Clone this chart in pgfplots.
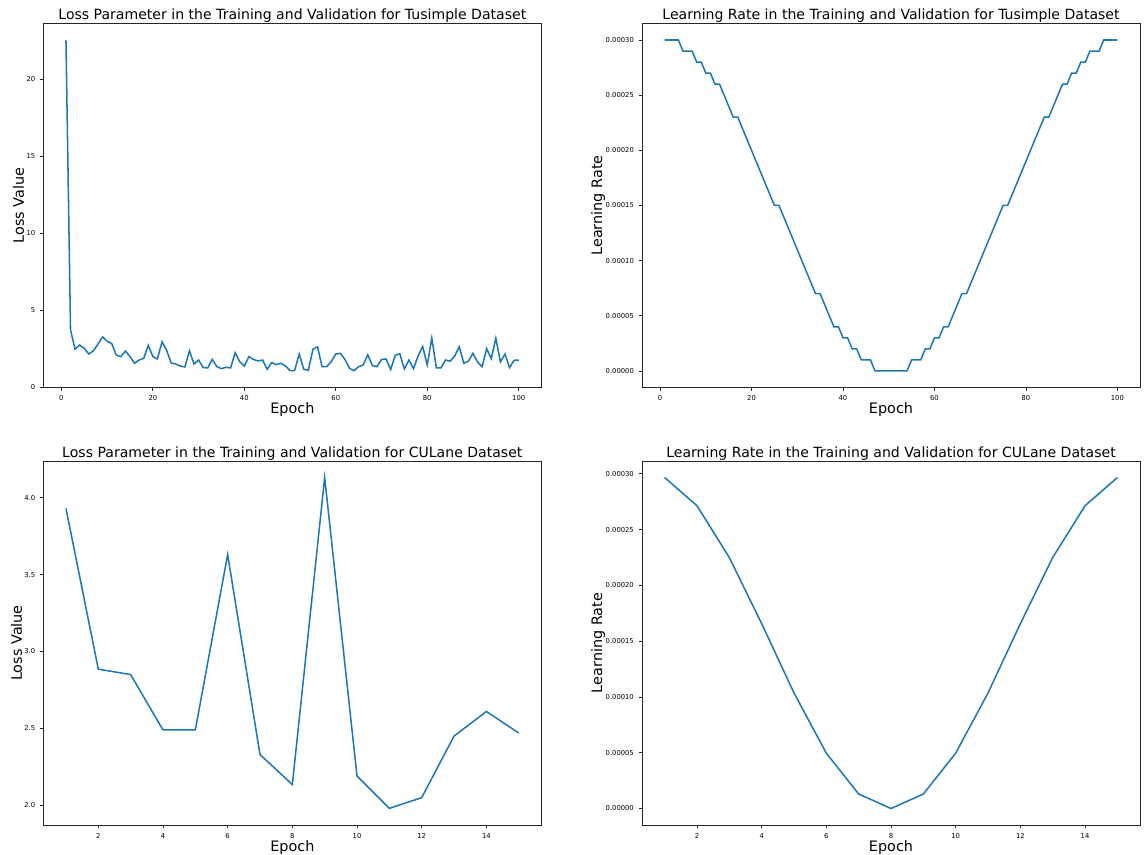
\documentclass[border=0pt]{standalone}
\usepackage{fontspec}
\setmainfont{DejaVu Sans}
\usepackage{pgfplots}
\pgfplotsset{compat=1.18}
\definecolor{mplblue}{RGB}{31,119,180}
\pgfplotsset{
  every axis title shift=0pt,
  base/.style={
    scale only axis, width=373.5pt, height=273pt, anchor=north west,
    axis line style={black!85, line width=0.6pt},
    tick align=outside, major tick length=2.6pt,
    tick style={black!85, line width=0.6pt},
    xtick pos=bottom, ytick pos=left,
    ticklabel style={font=\fontsize{5.1}{6}\selectfont},
    /pgf/number format/assume math mode=true,
    title style={font=\fontsize{10.55}{12}\selectfont, at={([yshift=2.8pt]axis description cs:0.5,1)}, anchor=base},
    xlabel style={font=\fontsize{10.8}{13}\selectfont, at={([yshift=-19.5pt]axis description cs:0.5,0)}, anchor=base},
    ylabel style={font=\fontsize{10.8}{13}\selectfont, anchor=base},
  },
}
\begin{document}
\begin{tikzpicture}
\useasboundingbox (0,0) rectangle (858pt,-640.5pt);
% Top-left
\begin{axis}[base, at={(32.5pt,-17.6pt)},
  xmin=-3.95, xmax=104.95, ymin=0, ymax=23.6,
  xtick={0,20,40,60,80,100}, ytick={0,5,10,15,20},
  title={Loss Parameter in the Training and Validation for Tusimple Dataset},
  xlabel={Epoch}, ylabel={Loss Value},
  ylabel style={at={([xshift=-14.5pt]axis description cs:0,0.5)}}]
\addplot[mplblue, line width=1.15pt, no marks] coordinates {(1,22.5)(2,3.71)(3,2.49)(4,2.75)(5,2.53)(6,2.17)(7,2.38)(8,2.81)(9,3.28)(10,3.0)(11,2.85)(12,2.1)(13,2.0)(14,2.36)(15,2.0)(16,1.57)(17,1.78)(18,1.89)(19,2.73)(20,2.0)(21,1.85)(22,2.96)(23,2.42)(24,1.59)(25,1.52)(26,1.39)(27,1.33)(28,2.38)(29,1.52)(30,1.78)(31,1.29)(32,1.27)(33,1.82)(34,1.35)(35,1.22)(36,1.31)(37,1.27)(38,2.25)(39,1.67)(40,1.39)(41,2.0)(42,1.82)(43,1.72)(44,1.78)(45,1.18)(46,1.61)(47,1.48)(48,1.57)(49,1.39)(50,1.1)(51,1.09)(52,2.17)(53,1.18)(54,1.12)(55,2.47)(56,2.64)(57,1.35)(58,1.35)(59,1.67)(60,2.17)(61,2.21)(62,1.82)(63,1.24)(64,1.09)(65,1.35)(66,1.46)(67,2.12)(68,1.42)(69,1.35)(70,1.82)(71,1.85)(72,1.16)(73,2.08)(74,2.19)(75,1.2)(76,1.78)(77,1.22)(78,2.04)(79,2.66)(80,1.46)(81,3.2)(82,1.27)(83,1.27)(84,1.78)(85,1.7)(86,2.04)(87,2.64)(88,1.57)(89,1.7)(90,2.21)(91,1.65)(92,1.35)(93,2.51)(94,1.87)(95,3.2)(96,1.65)(97,2.17)(98,1.29)(99,1.76)(100,1.78)};
\end{axis}
% Top-right
\begin{axis}[base, at={(481.5pt,-17.6pt)},
  xmin=-3.95, xmax=104.95, ymin=-0.000015, ymax=0.000315,
  xtick={0,20,40,60,80,100},
  ytick={0,0.00005,0.0001,0.00015,0.0002,0.00025,0.0003},
  scaled y ticks=false,
  yticklabel style={/pgf/number format/.cd, fixed, fixed zerofill, precision=5},
  title={Learning Rate in the Training and Validation for Tusimple Dataset},
  xlabel={Epoch}, ylabel={Learning Rate},
  ylabel style={at={([xshift=-30pt]axis description cs:0,0.5)}}]
\addplot[mplblue, line width=1.15pt, no marks] coordinates {(1,0.00030)(2,0.00030)(3,0.00030)(4,0.00030)(5,0.00029)(6,0.00029)(7,0.00029)(8,0.00028)(9,0.00028)(10,0.00027)(11,0.00027)(12,0.00026)(13,0.00026)(14,0.00025)(15,0.00024)(16,0.00023)(17,0.00023)(18,0.00022)(19,0.00021)(20,0.00020)(21,0.00019)(22,0.00018)(23,0.00017)(24,0.00016)(25,0.00015)(26,0.00015)(27,0.00014)(28,0.00013)(29,0.00012)(30,0.00011)(31,0.00010)(32,0.00009)(33,0.00008)(34,0.00007)(35,0.00007)(36,0.00006)(37,0.00005)(38,0.00004)(39,0.00004)(40,0.00003)(41,0.00003)(42,0.00002)(43,0.00002)(44,0.00001)(45,0.00001)(46,0.00001)(47,0)(48,0)(49,0)(50,0)(51,0)(52,0)(53,0)(54,0)(55,0.00001)(56,0.00001)(57,0.00001)(58,0.00002)(59,0.00002)(60,0.00003)(61,0.00003)(62,0.00004)(63,0.00004)(64,0.00005)(65,0.00006)(66,0.00007)(67,0.00007)(68,0.00008)(69,0.00009)(70,0.00010)(71,0.00011)(72,0.00012)(73,0.00013)(74,0.00014)(75,0.00015)(76,0.00015)(77,0.00016)(78,0.00017)(79,0.00018)(80,0.00019)(81,0.00020)(82,0.00021)(83,0.00022)(84,0.00023)(85,0.00023)(86,0.00024)(87,0.00025)(88,0.00026)(89,0.00026)(90,0.00027)(91,0.00027)(92,0.00028)(93,0.00028)(94,0.00029)(95,0.00029)(96,0.00029)(97,0.00030)(98,0.00030)(99,0.00030)(100,0.00030)};
\end{axis}
% Bottom-left
\begin{axis}[base, at={(32.5pt,-345.75pt)},
  xmin=0.3, xmax=15.7, ymin=1.872, ymax=4.238,
  xtick={2,4,6,8,10,12,14}, ytick={2.0,2.5,3.0,3.5,4.0},
  yticklabel style={/pgf/number format/.cd, fixed, fixed zerofill, precision=1},
  title={Loss Parameter in the Training and Validation for CULane Dataset},
  xlabel={Epoch}, ylabel={Loss Value},
  ylabel style={at={([xshift=-16pt]axis description cs:0,0.5)}}]
\addplot[mplblue, line width=1.15pt, no marks] coordinates {(1,3.93)(2,2.885)(3,2.85)(4,2.49)(5,2.49)(6,3.63)(7,2.33)(8,2.135)(9,4.13)(10,2.19)(11,1.98)(12,2.05)(13,2.45)(14,2.61)(15,2.47)};
\end{axis}
% Bottom-right
\begin{axis}[base, at={(481.5pt,-345.75pt)},
  xmin=0.3, xmax=15.7, ymin=-0.0000148, ymax=0.0003115,
  xtick={2,4,6,8,10,12,14},
  ytick={0,0.00005,0.0001,0.00015,0.0002,0.00025,0.0003},
  scaled y ticks=false,
  yticklabel style={/pgf/number format/.cd, fixed, fixed zerofill, precision=5},
  title={Learning Rate in the Training and Validation for CULane Dataset},
  xlabel={Epoch}, ylabel={Learning Rate},
  ylabel style={at={([xshift=-30pt]axis description cs:0,0.5)}}]
\addplot[mplblue, line width=1.15pt, no marks] coordinates {(1,0.0002967)(2,0.0002714)(3,0.000225)(4,0.0001657)(5,0.0001036)(6,0.0000496)(7,0.000013)(8,0)(9,0.000013)(10,0.0000496)(11,0.0001036)(12,0.0001657)(13,0.000225)(14,0.0002714)(15,0.0002967)};
\end{axis}
\end{tikzpicture}
\end{document}
